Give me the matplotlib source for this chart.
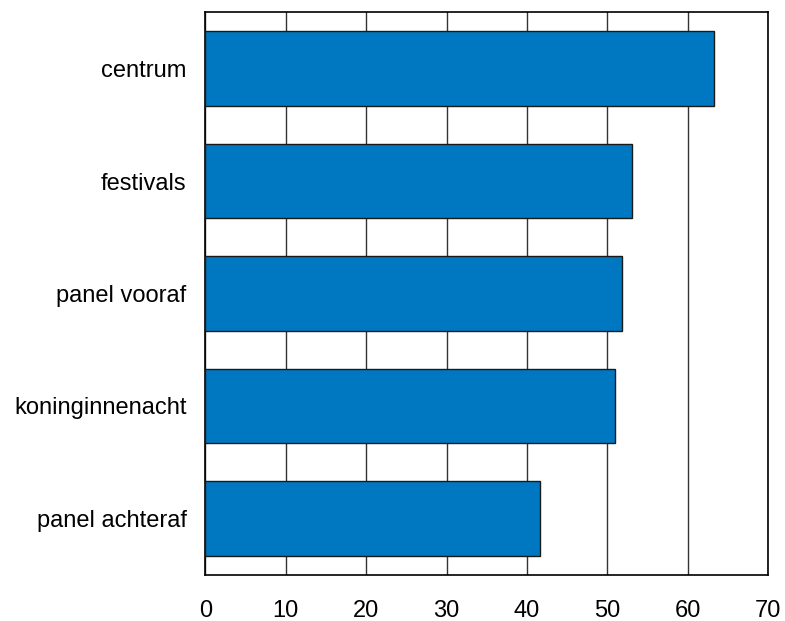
import numpy as np
from matplotlib import pyplot as plt

plt.rcParams['font.family'] = ['Liberation Sans', 'DejaVu Sans']

# data
categories = ['centrum', 'festivals', 'panel vooraf', 'koninginnenacht', 'panel achteraf']
values = [63.2, 53.1, 51.8, 50.9, 41.6]
x_ticks = [0, 10, 20, 30, 40, 50, 60, 70]

fig = plt.figure(figsize=(7.85, 6.21), dpi=100)
ax = fig.add_axes([205.3/785, 1 - 574.7/621, (768.3-205.3)/785, (574.7-12.3)/621])

y = np.arange(len(categories))
ax.barh(y, values, height=0.66, color='#0078c1', edgecolor='#1a1a1a', linewidth=1.0, zorder=3)

ax.set_xlim(0, 70)
ax.set_ylim(len(categories) - 0.5, -0.5)
ax.set_xticks(x_ticks)
ax.set_yticks(y)
ax.set_yticklabels(categories)
ax.xaxis.grid(True, color='#333333', linewidth=1.0, zorder=0)
ax.tick_params(axis='both', length=0, labelsize=17)
ax.tick_params(axis='x', pad=18.5)
ax.tick_params(axis='y', pad=13.5)
for s in ax.spines.values():
    s.set_linewidth(1.2)
    s.set_color('black')

fig.savefig('out.png', dpi=100)
